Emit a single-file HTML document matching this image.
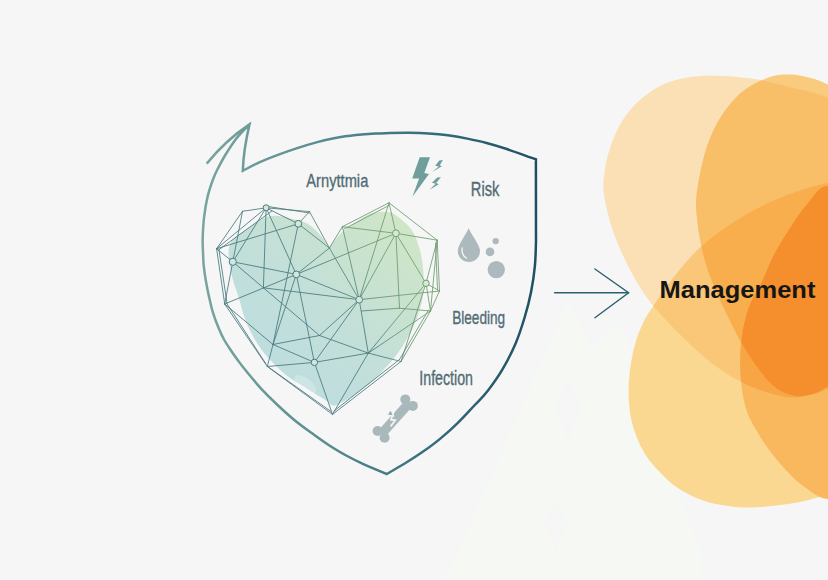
<!DOCTYPE html>
<html lang="en">
<head>
<meta charset="utf-8">
<title>Risk Management</title>
<style>
html,body{margin:0;padding:0;background:#f6f6f6;}
body{width:828px;height:580px;overflow:hidden;position:relative;font-family:"Liberation Sans",sans-serif;}
svg{position:absolute;left:0;top:0;display:block;}
text{font-family:"Liberation Sans",sans-serif;}
</style>
</head>
<body>
<svg width="828" height="580" viewBox="0 0 828 580">
<defs>
  <linearGradient id="shieldG" gradientUnits="userSpaceOnUse" x1="200" y1="300" x2="540" y2="300">
    <stop offset="0" stop-color="#79a59e"/>
    <stop offset="0.35" stop-color="#5b8d90"/>
    <stop offset="0.7" stop-color="#336a7a"/>
    <stop offset="1" stop-color="#1f4e63"/>
  </linearGradient>
  <linearGradient id="heartG" gradientUnits="userSpaceOnUse" x1="260" y1="380" x2="410" y2="220">
    <stop offset="0" stop-color="#bcdde0"/>
    <stop offset="0.45" stop-color="#c3dfd8"/>
    <stop offset="1" stop-color="#d0e6c6"/>
  </linearGradient>
  <linearGradient id="wireG" gradientUnits="userSpaceOnUse" x1="300" y1="330" x2="400" y2="270">
    <stop offset="0" stop-color="#47787f"/>
    <stop offset="0.45" stop-color="#4a7b7c"/>
    <stop offset="0.75" stop-color="#669672"/>
    <stop offset="1" stop-color="#6f9d70"/>
  </linearGradient>
  <path id="s1" d="M603.4 190.0 C602.8 183.0 603.9 177.7 604.6 172.0 C605.3 166.3 605.8 162.4 607.6 156.0 C609.5 149.6 612.3 140.5 615.7 133.3 C619.1 126.1 623.3 118.8 628.1 112.6 C632.9 106.4 638.5 100.8 644.7 96.0 C650.9 91.2 658.1 86.7 665.3 83.6 C672.5 80.5 679.8 78.7 688.1 77.4 C696.4 76.1 706.1 75.8 715.0 75.8 C723.9 75.8 733.8 76.7 741.6 77.4 C749.4 78.2 753.8 78.6 762.0 80.3 C770.2 82.0 780.0 84.6 791.0 87.5 C802.0 90.4 813.2 91.5 828.0 97.7 C842.8 104.0 866.3 99.6 880.0 125.0 C893.7 150.4 910.0 211.7 910.0 250.0 C910.0 288.3 893.7 332.0 880.0 355.0 C866.3 378.0 839.3 381.4 828.0 388.0 C816.7 394.6 817.3 392.9 812.0 394.5 C806.7 396.1 801.3 397.1 796.0 397.3 C790.7 397.5 786.4 397.2 780.0 395.8 C773.6 394.4 764.2 391.6 757.6 389.2 C751.0 386.8 746.0 384.3 740.6 381.6 C735.2 378.9 731.1 376.8 725.4 373.0 C719.7 369.2 712.7 364.0 706.4 358.8 C700.1 353.6 693.7 347.7 687.4 341.7 C681.1 335.7 674.2 328.8 668.5 322.8 C662.8 316.8 657.5 310.8 653.3 305.7 C649.0 300.6 647.1 298.4 643.0 292.0 C638.9 285.6 633.2 276.0 628.6 267.0 C624.0 258.0 618.9 246.8 615.5 238.0 C612.1 229.2 610.0 222.0 608.0 214.0 C606.0 206.0 604.0 197.0 603.4 190.0 Z"/>
  <path id="s2" d="M696.2 200.0 C696.6 193.0 697.8 184.8 699.6 176.0 C701.4 167.2 703.7 156.2 706.8 147.0 C709.9 137.8 713.6 129.1 718.4 120.9 C723.2 112.7 730.0 103.8 735.8 97.7 C741.6 91.7 746.9 88.2 753.2 84.6 C759.5 81.0 767.2 77.7 773.5 76.0 C779.8 74.3 785.2 74.3 791.0 74.5 C796.8 74.7 802.1 75.7 808.3 77.4 C814.5 79.1 817.7 79.2 828.0 84.6 C838.3 90.0 857.2 90.8 870.0 110.0 C882.8 129.2 900.8 165.0 905.0 200.0 C909.2 235.0 902.5 291.7 895.0 320.0 C887.5 348.3 871.2 358.9 860.0 370.0 C848.8 381.1 835.3 382.7 828.0 386.5 C820.7 390.3 820.5 391.2 816.0 392.8 C811.5 394.4 805.0 395.9 801.0 396.3 C797.0 396.7 795.3 396.0 791.8 395.0 C788.3 394.0 783.8 392.7 780.0 390.5 C776.2 388.3 773.4 386.2 769.0 381.6 C764.6 377.0 758.3 368.8 753.9 362.6 C749.5 356.4 745.7 350.0 742.5 344.6 C739.3 339.2 737.4 335.3 734.9 330.4 C732.4 325.5 729.9 320.6 727.3 315.2 C724.7 309.8 722.6 306.0 719.2 298.0 C715.8 290.0 710.0 277.0 706.8 267.0 C703.6 257.0 701.4 246.2 699.8 238.0 C698.2 229.8 697.6 224.3 697.0 218.0 C696.4 211.7 695.8 207.0 696.2 200.0 Z"/>
  <path id="s3" d="M629.4 375.4 C630.3 366.5 632.1 355.1 634.4 346.4 C636.7 337.7 639.9 329.6 643.0 323.0 C646.1 316.4 647.7 314.4 653.0 306.5 C658.3 298.6 667.5 285.2 675.0 275.7 C682.5 266.2 689.3 257.8 698.0 249.6 C706.7 241.4 716.3 233.7 727.0 226.4 C737.7 219.1 750.4 211.8 762.0 206.0 C773.6 200.2 785.7 195.4 796.7 191.6 C807.7 187.8 814.1 185.8 828.0 183.0 C841.9 180.2 859.7 163.8 880.0 175.0 C900.3 186.2 938.3 212.5 950.0 250.0 C961.7 287.5 961.7 362.5 950.0 400.0 C938.3 437.5 900.3 459.3 880.0 475.0 C859.7 490.7 841.2 489.5 828.0 494.0 C814.8 498.5 809.7 499.9 801.0 501.8 C792.3 503.7 784.2 504.6 775.8 505.5 C767.4 506.4 758.6 507.4 750.6 507.5 C742.6 507.6 735.9 507.2 728.0 506.0 C720.1 504.8 711.4 503.5 703.0 500.5 C694.6 497.5 685.3 493.1 677.8 488.0 C670.2 482.9 663.6 476.3 657.7 470.0 C651.8 463.7 646.8 457.5 642.6 450.0 C638.4 442.5 634.9 433.3 632.6 425.0 C630.3 416.7 629.3 408.3 628.8 400.0 C628.3 391.7 628.5 384.3 629.4 375.4 Z"/>
  <path id="s5" d="M828.0 186.0 C817.7 186.5 814.2 196.3 808.0 203.0 C801.8 209.7 796.8 217.7 791.0 226.4 C785.2 235.1 778.3 246.2 773.5 255.4 C768.7 264.6 765.6 274.0 762.0 281.4 C758.4 288.8 754.6 294.4 752.0 300.0 C749.4 305.6 747.9 309.8 746.3 315.2 C744.7 320.6 743.5 326.6 742.5 332.3 C741.5 338.0 741.0 343.6 740.6 349.3 C740.2 355.0 740.1 360.4 740.2 366.4 C740.4 372.4 740.8 379.4 741.5 385.4 C742.2 391.4 742.9 396.7 744.4 402.5 C745.9 408.3 747.0 412.9 750.6 420.0 C754.2 427.1 759.8 436.7 765.7 445.0 C771.6 453.3 779.1 462.8 785.8 470.0 C792.5 477.2 799.0 483.2 806.0 488.0 C813.0 492.8 817.3 497.8 828.0 499.0 C838.7 500.2 854.7 511.5 870.0 495.0 C885.3 478.5 911.7 435.8 920.0 400.0 C928.3 364.2 928.3 313.3 920.0 280.0 C911.7 246.7 885.3 215.7 870.0 200.0 C854.7 184.3 838.3 185.5 828.0 186.0 Z"/>
  <clipPath id="c1"><use href="#s1"/></clipPath>
  <clipPath id="c2"><use href="#s2"/></clipPath>
  <clipPath id="c3"><use href="#s3"/></clipPath>
</defs>

<rect width="828" height="580" fill="#f6f6f6"/>

<polygon points="568,303 592,352 620,321 702,560 702,580 446,580" fill="#f6f9f3"/>
<polygon points="568,378 582,406 568,442 554,406" fill="#f6f6f6"/>
<polygon points="556,500 568,524 556,552 544,524" fill="#f6f6f6"/>

<!-- orange blobs -->
<g id="blobs">
  <use href="#s1" fill="#fbe0b6"/>
  <use href="#s3" fill="#fbd892"/>
  <use href="#s3" fill="#fac677" clip-path="url(#c1)"/>
  <use href="#s2" fill="#f9cb7e"/>
  <use href="#s2" fill="#f9bf68" clip-path="url(#c1)"/>
  <g clip-path="url(#c3)"><use href="#s2" fill="#f8ae4c"/></g>
  <use href="#s5" fill="#f9b75e"/>
  <use href="#s5" fill="#f7a545" clip-path="url(#c1)"/>
  <use href="#s5" fill="#f58f2d" clip-path="url(#c2)"/>
</g>

<!-- shield -->
<path id="shield" d="M249.5 124.4 C247.3 126.7 240.4 133.3 236.4 138.4 C232.4 143.5 228.5 149.7 225.3 155.0 C222.1 160.3 219.1 166.0 217.0 170.2 C214.9 174.4 214.4 175.6 212.8 180.0 C211.2 184.4 209.1 190.4 207.6 196.6 C206.1 202.8 204.9 210.3 204.1 217.2 C203.3 224.1 202.9 232.1 202.7 237.9 C202.5 243.7 202.8 247.4 203.0 252.0 C203.2 256.6 203.2 260.7 203.7 265.5 C204.2 270.3 205.0 275.8 205.9 281.0 C206.8 286.2 207.8 291.4 209.0 296.6 C210.2 301.8 211.2 306.9 212.8 312.1 C214.4 317.3 216.5 323.0 218.4 327.6 C220.3 332.2 221.9 335.7 224.0 339.5 C226.1 343.3 228.5 346.8 230.8 350.3 C233.1 353.8 235.5 357.1 238.0 360.5 C240.5 363.9 242.1 366.1 246.0 370.8 C249.9 375.5 256.1 383.2 261.3 388.8 C266.5 394.4 271.5 399.3 277.0 404.5 C282.5 409.7 288.5 415.2 294.3 420.0 C300.1 424.8 305.9 428.9 311.7 433.1 C317.5 437.3 323.2 441.5 329.0 445.2 C334.8 448.9 340.5 452.4 346.2 455.5 C351.9 458.6 356.6 461.0 363.4 464.1 C370.2 467.2 382.9 472.4 386.8 474.0 L386.8 474.0 C390.0 472.1 399.8 466.5 405.9 462.8 C411.9 459.1 417.4 455.6 423.1 451.6 C428.8 447.6 434.6 443.4 440.3 438.6 C446.1 433.9 451.9 428.7 457.6 423.1 C463.4 417.5 469.7 410.4 474.8 405.0 C479.9 399.6 483.4 396.5 488.0 390.5 C492.6 384.5 498.0 377.1 502.6 369.2 C507.2 361.3 511.9 352.0 515.6 343.4 C519.3 334.8 522.0 326.1 524.6 317.5 C527.2 308.9 529.4 300.3 531.1 291.7 C532.8 283.1 534.1 274.1 534.9 265.8 C535.7 257.5 535.8 246.0 536.0 242.0 L535.9 159.3 L535.9 159.3 C534.1 158.7 530.3 157.3 525.3 155.6 C520.3 153.8 512.5 150.9 506.0 148.8 C499.6 146.7 493.1 144.7 486.6 143.0 C480.2 141.3 473.7 139.9 467.3 138.6 C460.9 137.3 454.4 136.2 448.0 135.3 C441.6 134.4 435.1 133.8 428.6 133.4 C422.2 133.0 415.7 132.8 409.3 132.7 C402.9 132.6 395.7 132.8 390.0 133.0 C384.3 133.2 381.0 133.2 375.3 133.6 C369.6 133.9 362.3 134.4 355.9 135.1 C349.4 135.8 343.0 136.6 336.6 137.8 C330.2 139.0 323.7 140.4 317.3 142.1 C310.9 143.8 304.4 145.8 298.0 147.9 C291.6 150.0 285.1 152.2 278.6 154.6 C272.2 157.0 265.3 159.6 259.3 162.3 C253.3 165.0 245.6 169.4 242.8 170.8 Q243.5 150 249.5 124.4 Q226 140 206.7 163.6" fill="none" stroke="url(#shieldG)" stroke-width="2.5" stroke-linejoin="miter" stroke-miterlimit="3" stroke-linecap="butt"/>

<!-- heart -->
<path id="heartfill" d="M329.2 248.6 C330.3 247.0 333.6 241.9 336.0 239.0 C338.4 236.1 340.7 233.4 343.5 231.0 C346.3 228.6 349.6 226.8 352.8 224.5 C356.1 222.2 359.3 219.4 363.0 217.4 C366.7 215.4 370.7 213.5 375.0 212.6 C379.3 211.7 385.2 211.5 389.0 212.2 C392.8 212.8 393.9 213.6 397.6 216.5 C401.3 219.4 407.8 224.5 411.4 229.5 C415.0 234.5 417.1 240.9 419.0 246.7 C420.9 252.4 421.8 258.2 422.6 264.0 C423.4 269.8 423.7 275.2 423.6 281.2 C423.5 287.2 423.5 293.4 422.2 300.0 C420.9 306.6 418.4 314.5 416.0 320.7 C413.6 326.9 410.9 331.7 407.8 337.2 C404.7 342.7 401.2 348.6 397.4 353.8 C393.6 359.0 389.5 363.5 385.0 368.3 C380.5 373.1 375.7 378.3 370.5 382.8 C365.3 387.3 359.0 391.8 354.0 395.2 C349.0 398.6 344.0 401.3 340.5 403.0 C337.0 404.7 335.4 406.0 333.0 405.6 C330.6 405.2 329.2 402.7 326.0 400.6 C322.8 398.5 318.8 396.1 314.0 393.1 C309.2 390.1 302.6 386.2 297.4 382.8 C292.2 379.4 287.8 376.5 283.0 372.4 C278.2 368.3 272.9 363.2 268.4 358.0 C263.9 352.8 259.8 347.6 256.0 341.4 C252.2 335.2 248.4 327.6 245.7 320.7 C242.9 313.8 241.6 306.8 239.5 300.0 C237.4 293.2 234.8 286.7 233.0 280.0 C231.2 273.3 229.6 265.7 229.0 260.0 C228.4 254.3 228.3 249.8 229.3 246.0 C230.3 242.2 232.1 240.3 235.0 237.5 C237.9 234.7 243.2 231.7 247.0 229.0 C250.8 226.3 254.9 223.5 258.0 221.5 C261.1 219.5 263.1 218.2 265.5 217.2 C267.9 216.2 269.9 215.8 272.7 215.7 C275.4 215.5 278.4 215.7 282.0 216.3 C285.6 216.9 290.0 218.2 294.0 219.3 C298.0 220.4 302.6 221.1 306.2 222.9 C309.8 224.7 313.0 227.6 315.8 230.2 C318.6 232.8 320.9 235.5 323.1 238.6 C325.3 241.7 328.2 246.9 329.2 248.6 Z" fill="url(#heartG)"/>
<ellipse cx="305" cy="384.5" rx="13" ry="6.5" transform="rotate(38 305 384.5)" fill="#ffffff" opacity="0.22"/>
<path id="wire" d="M216.6 248.7 L242.5 211.3 M242.5 211.3 L266.1 207.8 M266.1 207.8 L309.5 211.6 M309.5 211.6 L329.4 248.0 M329.4 248.0 L342.4 226.7 M342.4 226.7 L389.0 202.8 M389.0 202.8 L437.2 240.2 M437.2 240.2 L439.5 291.0 M439.5 291.0 L430.5 311.0 M430.5 311.0 L401.0 361.5 M401.0 361.5 L332.5 414.4 M332.5 414.4 L267.3 366.5 M267.3 366.5 L224.7 304.0 M224.7 304.0 L216.6 248.7 M242.5 211.3 L232.8 261.8 M216.6 248.7 L266.1 207.8 M216.6 248.7 L298.3 223.8 M216.6 248.7 L232.8 261.8 M266.1 207.8 L232.8 261.8 M266.1 207.8 L263.4 287.8 M266.1 207.8 L296.3 274.4 M266.1 207.8 L298.3 223.8 M309.5 211.6 L298.3 223.8 M298.3 223.8 L329.4 248.0 M298.3 223.8 L273.0 344.5 M232.8 261.8 L296.3 274.4 M232.8 261.8 L319.5 335.5 M224.7 304.0 L296.3 274.4 M263.4 287.8 L359.2 299.7 M296.3 274.4 L329.4 248.0 M296.3 274.4 L395.9 233.3 M296.3 274.4 L359.2 299.7 M296.3 274.4 L314.4 362.4 M296.3 274.4 L273.0 344.5 M359.2 299.7 L342.4 226.7 M359.2 299.7 L329.4 248.0 M359.2 299.7 L389.0 202.8 M359.2 299.7 L395.9 233.3 M359.2 299.7 L439.5 291.0 M359.2 299.7 L314.4 362.4 M359.2 299.7 L319.5 335.5 M359.2 299.7 L368.3 353.1 M273.0 344.5 L224.7 304.0 M273.0 344.5 L267.3 366.5 M273.0 344.5 L314.4 362.4 M273.0 344.5 L319.5 335.5 M267.3 366.5 L314.4 362.4 M314.4 362.4 L332.5 414.4 M319.5 335.5 L368.3 353.1 M395.9 233.3 L342.4 226.7 M395.9 233.3 L389.0 202.8 M395.9 233.3 L437.2 240.2 M395.9 233.3 L426.0 283.3 M395.9 233.3 L399.5 308.2 M426.0 283.3 L437.2 240.2 M426.0 283.3 L439.5 291.0 M426.0 283.3 L430.5 311.0 M426.0 283.3 L401.0 361.5 M426.0 283.3 L368.3 353.1 M368.3 353.1 L430.5 311.0 M368.3 353.1 L401.0 361.5 M368.3 353.1 L314.4 362.4 M368.3 353.1 L332.5 414.4 M399.5 308.2 L430.5 311.0 M399.5 308.2 L361.5 311.0 M232.8 261.8 L224.7 304.0 M437.2 240.2 L430.5 311.0 M218.5 250.0 L272.0 210.9 M268.0 206.5 L309.5 213.0 M226.5 303.0 L266.0 364.0 M435.5 243.0 L437.5 290.0 M428.5 310.0 L399.5 359.5 M399.5 359.5 L334.0 411.0 M269.0 367.5 L331.0 411.5 M344.0 229.0 L389.0 205.5 M219.0 250.0 L227.0 303.0 " fill="none" stroke="url(#wireG)" stroke-width="0.95" stroke-opacity="0.9" stroke-linecap="round"/>
<g fill="url(#heartG)" stroke="none"><circle cx="266.1" cy="207.8" r="3.0"/><circle cx="298.3" cy="223.8" r="3.4"/><circle cx="232.8" cy="261.8" r="3.6"/><circle cx="296.3" cy="274.4" r="3.4"/><circle cx="395.9" cy="233.3" r="3.4"/><circle cx="426.0" cy="283.3" r="3.2"/><circle cx="314.4" cy="362.4" r="3.2"/><circle cx="359.2" cy="299.7" r="3.4"/></g>
<g fill="rgba(255,255,255,0.22)" stroke="url(#wireG)" stroke-width="1"><circle cx="266.1" cy="207.8" r="3.0"/><circle cx="298.3" cy="223.8" r="3.4"/><circle cx="232.8" cy="261.8" r="3.6"/><circle cx="296.3" cy="274.4" r="3.4"/><circle cx="395.9" cy="233.3" r="3.4"/><circle cx="426.0" cy="283.3" r="3.2"/><circle cx="314.4" cy="362.4" r="3.2"/><circle cx="359.2" cy="299.7" r="3.4"/></g>

<!-- icons -->
<g id="bolt" fill="#6f9f9c">
  <path d="M419.7 157.2 L430 157.2 L424.3 173.1 L429 174 L412.4 196.7 L419.1 178.6 L412.2 178.6 Z"/>
  <path d="M439.3 160.5 L442.9 160 L439.8 165.2 L441.9 166.2 L432 172.1 L438.8 166.6 L435.2 165.7 Z"/>
  <path d="M437.2 177.6 L440.9 177.3 L436.2 183.1 L438.8 184.3 L429.5 189.7 L435.7 183.8 L432 182.8 Z"/>
</g>
<g id="drops" fill="#adbabd">
  <path d="M468.7 228.3 C472 236 480 245 480 251 A11.1 11.1 0 0 1 457.8 251 C457.8 245 465 236 468.7 228.3 Z"/>
  <path d="M462.2 248 C461.5 252 463 256 466.5 258" fill="none" stroke="#f6f6f6" stroke-width="1.3" stroke-linecap="round"/>
  <circle cx="495.7" cy="241.1" r="3.2"/>
  <circle cx="490" cy="251.9" r="4.3"/>
  <circle cx="496.3" cy="269.6" r="8.7"/>
</g>
<g id="bone" fill="#a9b9bb">
  <path d="M381.3 434.1 L409.1 403.1" stroke="#a9b9bb" stroke-width="9.6" fill="none"/>
  <circle cx="405.3" cy="399.4" r="5"/><circle cx="412.8" cy="405.9" r="5"/>
  <circle cx="377.6" cy="431" r="5"/><circle cx="384.6" cy="437.8" r="5"/>
  <path d="M393.9 411 L391 419.7 L395.2 420.2 L390.6 426.5" fill="none" stroke="#f6f6f6" stroke-width="1.7"/>
  <path d="M386.8 414.8 L390.8 409.6 L393.6 416 Z" fill="#8fb3ae" stroke="#f6f6f6" stroke-width="1.2"/>
</g>

<!-- arrow -->
<g stroke="#2c6070" stroke-width="1.4" fill="none" stroke-linecap="round">
  <path d="M554.6 292.8 L628.4 292.8"/>
  <path d="M594.9 269 L628.6 292.8 L594.9 317.7"/>
</g>

<!-- labels -->
<g fill="#506c74" stroke="#506c74" stroke-width="0.35" font-size="19">
  <text x="306.3" y="186.7" textLength="62" lengthAdjust="spacingAndGlyphs">Arnyttmia</text>
  <text x="470.8" y="196.4" textLength="28.5" lengthAdjust="spacingAndGlyphs" font-size="19.5">Risk</text>
  <text x="452.2" y="324" textLength="53" lengthAdjust="spacingAndGlyphs">Bleeding</text>
  <text x="419.3" y="385" textLength="53.7" lengthAdjust="spacingAndGlyphs" font-size="19.5">Infection</text>
</g>
<text x="659.6" y="297.5" font-size="24" font-weight="bold" fill="#161616" textLength="155.8" lengthAdjust="spacingAndGlyphs">Management</text>
</svg>
</body>
</html>
